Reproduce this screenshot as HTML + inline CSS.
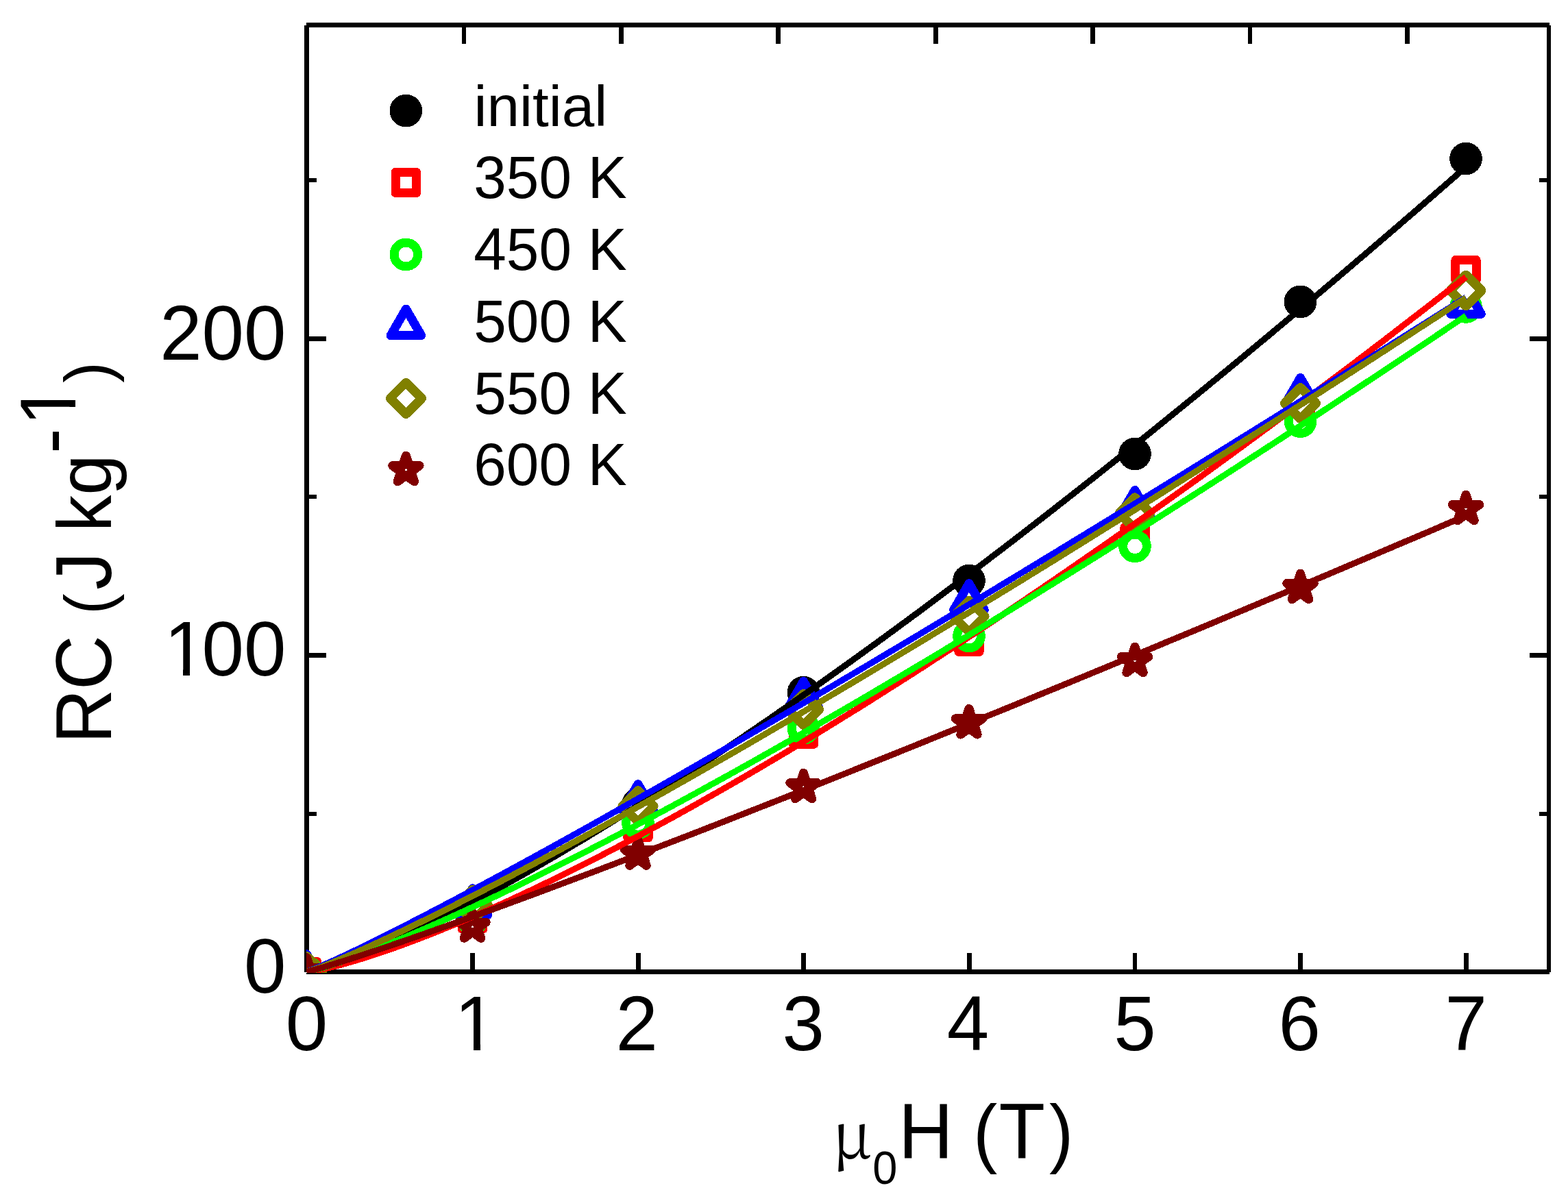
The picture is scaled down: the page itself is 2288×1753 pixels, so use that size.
<!DOCTYPE html>
<html lang="en"><head><meta charset="utf-8"><title>RC vs field</title>
<style>html,body{margin:0;padding:0;background:#fff}body{width:2288px;height:1753px;overflow:hidden}svg{display:block}text{font-family:"Liberation Sans",sans-serif;fill:#000}.sym{font-family:"Noto Serif CJK SC","Liberation Serif",serif}</style>
</head><body>
<svg width="2288" height="1753" viewBox="0 0 2288 1753" shape-rendering="crispEdges">
<rect width="2288" height="1753" fill="#fff"/>
<defs>
<clipPath id="k1"><path d="M-5 -100H70V-9.2H37.5V3H27.75V-9.2H-5Z"/></clipPath>
<clipPath id="cp"><rect x="447" y="0" width="1841.0" height="1420"/></clipPath>
<circle id="m0" r="17.3" fill="#000" stroke="#000" stroke-width="13"/>
<rect id="m1" x="-15.15" y="-15.15" width="30.3" height="30.3" fill="#fff" stroke="#f00" stroke-width="13" stroke-linejoin="round"/>
<circle id="m2" r="17.3" fill="#fff" stroke="#0f0" stroke-width="13"/>
<polygon id="m3" points="0,-25.7 22.35,12.85 -22.35,12.85" fill="#fff" stroke="#00f" stroke-width="13" stroke-linejoin="round"/>
<polygon id="m4" points="0,-23.05 23.05,0 0,23.05 -23.05,0" fill="#fff" stroke="#808000" stroke-width="13" stroke-linejoin="round"/>
<polygon id="m5" points="0.00,-20.80 4.67,-6.43 19.78,-6.43 7.56,2.46 12.23,16.83 0.00,7.95 -12.23,16.83 -7.56,2.46 -19.78,-6.43 -4.67,-6.43" fill="#fff" stroke="#800000" stroke-width="13" stroke-linejoin="round"/>
</defs>
<g stroke="#000" stroke-width="7" fill="none" stroke-linecap="butt">
<path d="M447.5 36.5V1418.75M447 1418.5H2261M447 36.5H2261"/>
<path d="M2260 36.5V1418.75" stroke-width="6"/>
</g>
<path d="M689.5 1391V1416M677.0 39V64M931.1 1391V1416M906.4 39V64M1172.7 1391V1416M1135.8 39V64M1414.3 1391V1416M1365.2 39V64M1655.9 1391V1416M1594.6 39V64M1897.5 1391V1416M1824.0 39V64M2139.1 1391V1416M2053.4 39V64" stroke="#000" stroke-width="6.8" fill="none"/>
<path d="M450 956.5H476.0M2258 956.5H2232.0M450 494.4H476.0M2258 494.4H2232.0" stroke="#000" stroke-width="7" fill="none"/>
<path d="M450 1187.5H462.0M2258 1187.5H2246.0M450 725.4H462.0M2258 725.4H2246.0M450 263.4H462.0M2258 263.4H2246.0" stroke="#000" stroke-width="6" fill="none"/>
<text transform="translate(447.50 1533.00) scale(1 1.025)" font-size="110.5" text-anchor="middle">0</text>
<text transform="translate(663.20 1533.00) scale(1 1.025)" font-size="110.5">1</text>
<path transform="translate(663.20 1533.00)" d="M6 -9.62H27.75V1.5H6ZM37.5 -9.62H58V1.5H37.5Z" fill="#fff"/>
<text transform="translate(929.20 1533.00) scale(1 1.025)" font-size="110.5" text-anchor="middle">2</text>
<text transform="translate(1172.30 1533.00) scale(1 1.025)" font-size="110.5" text-anchor="middle">3</text>
<text transform="translate(1412.40 1533.00) scale(1 1.025)" font-size="110.5" text-anchor="middle">4</text>
<text transform="translate(1656.00 1533.00) scale(1 1.025)" font-size="110.5" text-anchor="middle">5</text>
<text transform="translate(1896.10 1533.00) scale(1 1.025)" font-size="110.5" text-anchor="middle">6</text>
<text transform="translate(2139.20 1533.00) scale(1 1.025)" font-size="110.5" text-anchor="middle">7</text>
<text transform="translate(417.50 1448.90) scale(1 1.025)" font-size="110.5" text-anchor="end">0</text>
<text transform="translate(0 985.85) scale(1 1.025)" font-size="110.5" x="239.5 294.6 356.05">100</text>
<path transform="translate(239.50 985.85)" d="M6 -9.62H27.75V1.5H6ZM37.5 -9.62H58V1.5H37.5Z" fill="#fff"/>
<text transform="translate(417.50 524.80) scale(1 1.025)" font-size="110.5" text-anchor="end">200</text>
<text transform="translate(0 1691) scale(1 1.043)" font-size="110.5"><tspan class="sym" x="1214.3" font-size="92">μ</tspan><tspan x="1273.2" dy="35.95" font-size="65">0</tspan><tspan x="1311" dy="-35.95">H </tspan><tspan x="1420" font-size="106">(</tspan><tspan x="1457.5">T</tspan><tspan x="1531.1" font-size="106">)</tspan></text>
<text transform="translate(162 1085.5) rotate(-90) scale(1 1.045)" font-size="110.5"><tspan x="0">R</tspan><tspan x="78.4">C </tspan><tspan x="188.8" dy="-0.96" font-size="91">(</tspan><tspan x="224.5" dy="0.96">J </tspan><tspan x="309.2" font-size="107">kg</tspan><tspan x="423.5" dy="-48.33">-</tspan><tspan x="464" dy="-1.44">1</tspan><tspan x="526.7" dy="48.80" font-size="91">)</tspan></text>
<path transform="translate(110.00 621.50) rotate(-90)" d="M6 -9.79H27.75V1.5H6ZM37.5 -9.79H58V1.5H37.5Z" fill="#fff"/>
<use href="#m0" x="592.4" y="161.6"/>
<use href="#m1" x="592.4" y="266.5"/>
<use href="#m2" x="592.4" y="371.5"/>
<use href="#m3" x="592.4" y="476.8"/>
<use href="#m4" x="592.4" y="581.4"/>
<use href="#m5" x="592.4" y="686.0"/>
<text transform="translate(691.50 184.20) scale(1 0.98)" font-size="85.5">initial</text>
<text transform="translate(691.30 288.60) scale(1 1.025)" font-size="85.5">350 K</text>
<text transform="translate(691.30 393.60) scale(1 1.025)" font-size="85.5">450 K</text>
<text transform="translate(691.30 498.90) scale(1 1.025)" font-size="85.5">500 K</text>
<text transform="translate(691.30 603.50) scale(1 1.025)" font-size="85.5">550 K</text>
<text transform="translate(691.30 708.10) scale(1 1.025)" font-size="85.5">600 K</text>
<g clip-path="url(#cp)">
<g><use href="#m0" x="447.5" y="1418.5"/><use href="#m0" x="689.5" y="1335.0"/><use href="#m0" x="931.0" y="1174.0"/><use href="#m0" x="1172.5" y="1010.7"/><use href="#m0" x="1414.0" y="847.5"/><use href="#m0" x="1656.0" y="662.5"/><use href="#m0" x="1897.5" y="440.5"/><use href="#m0" x="2139.0" y="231.5"/></g>
<g><use href="#m1" x="447.5" y="1418.5"/><use href="#m1" x="689.5" y="1341.2"/><use href="#m1" x="931.0" y="1207.8"/><use href="#m1" x="1172.5" y="1071.2"/><use href="#m1" x="1414.0" y="936.3"/><use href="#m1" x="1656.0" y="784.6"/><use href="#m1" x="1897.5" y="597.0"/><use href="#m1" x="2139.0" y="394.5"/></g>
<g><use href="#m2" x="447.5" y="1418.5"/><use href="#m2" x="689.5" y="1341.0"/><use href="#m2" x="931.0" y="1201.0"/><use href="#m2" x="1172.5" y="1062.9"/><use href="#m2" x="1414.0" y="928.4"/><use href="#m2" x="1656.0" y="797.3"/><use href="#m2" x="1897.5" y="615.2"/><use href="#m2" x="2139.0" y="448.0"/></g>
<g><use href="#m3" x="447.5" y="1418.5"/><use href="#m3" x="689.5" y="1322.4"/><use href="#m3" x="931.0" y="1170.2"/><use href="#m3" x="1172.5" y="1020.1"/><use href="#m3" x="1414.0" y="877.4"/><use href="#m3" x="1656.0" y="741.1"/><use href="#m3" x="1897.5" y="577.1"/><use href="#m3" x="2139.0" y="445.5"/></g>
<g><use href="#m4" x="447.5" y="1418.5"/><use href="#m4" x="689.5" y="1321.2"/><use href="#m4" x="931.0" y="1176.6"/><use href="#m4" x="1172.5" y="1035.5"/><use href="#m4" x="1414.0" y="899.4"/><use href="#m4" x="1656.0" y="748.9"/><use href="#m4" x="1897.5" y="588.6"/><use href="#m4" x="2139.0" y="424.0"/></g>
<g><use href="#m5" x="447.5" y="1418.5"/><use href="#m5" x="689.5" y="1352.5"/><use href="#m5" x="931.0" y="1246.5"/><use href="#m5" x="1172.5" y="1149.0"/><use href="#m5" x="1414.0" y="1055.2"/><use href="#m5" x="1656.0" y="964.9"/><use href="#m5" x="1897.5" y="857.9"/><use href="#m5" x="2139.0" y="742.9"/></g>
<g fill="none" stroke-width="9" stroke-linejoin="round">
<polyline stroke="#000" points="447.5,1418.5 471.7,1412.9 495.8,1405.2 520.0,1396.3 544.2,1386.6 568.3,1376.2 592.5,1365.3 616.6,1353.9 640.8,1342.1 665.0,1329.9 689.1,1317.3 713.3,1304.4 737.5,1291.1 761.6,1277.6 785.8,1263.8 810.0,1249.8 834.1,1235.5 858.3,1221.0 882.5,1206.2 906.6,1191.3 930.8,1176.1 954.9,1160.8 979.1,1145.2 1003.3,1129.5 1027.4,1113.5 1051.6,1097.4 1075.8,1081.2 1099.9,1064.8 1124.1,1048.2 1148.3,1031.4 1172.4,1014.5 1196.6,997.5 1220.7,980.3 1244.9,963.0 1269.1,945.5 1293.2,928.0 1317.4,910.2 1341.6,892.4 1365.7,874.4 1389.9,856.3 1414.1,838.1 1438.2,819.7 1462.4,801.3 1486.6,782.7 1510.7,764.0 1534.9,745.2 1559.0,726.3 1583.2,707.3 1607.4,688.2 1631.5,669.0 1655.7,649.7 1679.9,630.3 1704.0,610.7 1728.2,591.1 1752.4,571.4 1776.5,551.6 1800.7,531.7 1824.8,511.7 1849.0,491.6 1873.2,471.4 1897.3,451.2 1921.5,430.8 1945.7,410.4 1969.8,389.8 1994.0,369.2 2018.2,348.5 2042.3,327.8 2066.5,306.9 2090.7,285.9 2114.8,264.9 2139.0,243.8"/>
<polyline stroke="#f00" points="447.5,1418.5 471.7,1414.5 495.8,1408.7 520.0,1401.8 544.2,1394.2 568.3,1386.1 592.5,1377.3 616.6,1368.2 640.8,1358.6 665.0,1348.7 689.1,1338.4 713.3,1327.8 737.5,1316.9 761.6,1305.7 785.8,1294.2 810.0,1282.5 834.1,1270.6 858.3,1258.4 882.5,1246.0 906.6,1233.4 930.8,1220.6 954.9,1207.6 979.1,1194.4 1003.3,1181.0 1027.4,1167.4 1051.6,1153.7 1075.8,1139.8 1099.9,1125.8 1124.1,1111.5 1148.3,1097.2 1172.4,1082.6 1196.6,1068.0 1220.7,1053.1 1244.9,1038.2 1269.1,1023.1 1293.2,1007.8 1317.4,992.5 1341.6,977.0 1365.7,961.3 1389.9,945.6 1414.1,929.7 1438.2,913.7 1462.4,897.6 1486.6,881.3 1510.7,865.0 1534.9,848.5 1559.0,831.9 1583.2,815.2 1607.4,798.4 1631.5,781.5 1655.7,764.5 1679.9,747.4 1704.0,730.2 1728.2,712.9 1752.4,695.5 1776.5,678.0 1800.7,660.4 1824.8,642.6 1849.0,624.8 1873.2,606.9 1897.3,589.0 1921.5,570.9 1945.7,552.7 1969.8,534.5 1994.0,516.1 2018.2,497.7 2042.3,479.1 2066.5,460.5 2090.7,441.8 2114.8,423.1 2139.0,404.2"/>
<polyline stroke="#0f0" points="447.5,1418.5 471.7,1412.4 495.8,1404.7 520.0,1396.1 544.2,1386.9 568.3,1377.2 592.5,1367.2 616.6,1356.9 640.8,1346.3 665.0,1335.4 689.1,1324.3 713.3,1312.9 737.5,1301.4 761.6,1289.7 785.8,1277.8 810.0,1265.7 834.1,1253.5 858.3,1241.2 882.5,1228.7 906.6,1216.0 930.8,1203.3 954.9,1190.4 979.1,1177.4 1003.3,1164.3 1027.4,1151.0 1051.6,1137.7 1075.8,1124.3 1099.9,1110.8 1124.1,1097.1 1148.3,1083.4 1172.4,1069.6 1196.6,1055.7 1220.7,1041.7 1244.9,1027.6 1269.1,1013.5 1293.2,999.2 1317.4,984.9 1341.6,970.5 1365.7,956.1 1389.9,941.5 1414.1,926.9 1438.2,912.3 1462.4,897.5 1486.6,882.7 1510.7,867.8 1534.9,852.9 1559.0,837.9 1583.2,822.8 1607.4,807.7 1631.5,792.5 1655.7,777.2 1679.9,761.9 1704.0,746.5 1728.2,731.1 1752.4,715.6 1776.5,700.1 1800.7,684.5 1824.8,668.9 1849.0,653.2 1873.2,637.4 1897.3,621.6 1921.5,605.8 1945.7,589.9 1969.8,573.9 1994.0,557.9 2018.2,541.9 2042.3,525.8 2066.5,509.7 2090.7,493.5 2114.8,477.2 2139.0,461.0"/>
<polyline stroke="#00f" points="447.5,1418.5 471.7,1408.7 495.8,1397.8 520.0,1386.3 544.2,1374.5 568.3,1362.4 592.5,1350.2 616.6,1337.7 640.8,1325.1 665.0,1312.4 689.1,1299.5 713.3,1286.5 737.5,1273.4 761.6,1260.3 785.8,1247.0 810.0,1233.7 834.1,1220.3 858.3,1206.8 882.5,1193.2 906.6,1179.6 930.8,1165.9 954.9,1152.2 979.1,1138.4 1003.3,1124.5 1027.4,1110.6 1051.6,1096.7 1075.8,1082.7 1099.9,1068.6 1124.1,1054.5 1148.3,1040.4 1172.4,1026.2 1196.6,1012.0 1220.7,997.7 1244.9,983.4 1269.1,969.1 1293.2,954.7 1317.4,940.3 1341.6,925.9 1365.7,911.4 1389.9,896.9 1414.1,882.4 1438.2,867.8 1462.4,853.2 1486.6,838.6 1510.7,823.9 1534.9,809.2 1559.0,794.5 1583.2,779.8 1607.4,765.0 1631.5,750.2 1655.7,735.4 1679.9,720.5 1704.0,705.7 1728.2,690.8 1752.4,675.8 1776.5,660.9 1800.7,645.9 1824.8,630.9 1849.0,615.9 1873.2,600.9 1897.3,585.8 1921.5,570.7 1945.7,555.6 1969.8,540.5 1994.0,525.4 2018.2,510.2 2042.3,495.0 2066.5,479.8 2090.7,464.6 2114.8,449.4 2139.0,434.1"/>
<polyline stroke="#808000" points="447.5,1418.5 471.7,1410.2 495.8,1400.4 520.0,1389.9 544.2,1379.0 568.3,1367.8 592.5,1356.2 616.6,1344.5 640.8,1332.5 665.0,1320.3 689.1,1308.0 713.3,1295.5 737.5,1282.9 761.6,1270.1 785.8,1257.2 810.0,1244.2 834.1,1231.1 858.3,1217.9 882.5,1204.6 906.6,1191.2 930.8,1177.7 954.9,1164.2 979.1,1150.5 1003.3,1136.8 1027.4,1123.0 1051.6,1109.1 1075.8,1095.2 1099.9,1081.2 1124.1,1067.1 1148.3,1053.0 1172.4,1038.8 1196.6,1024.5 1220.7,1010.2 1244.9,995.9 1269.1,981.4 1293.2,967.0 1317.4,952.5 1341.6,937.9 1365.7,923.3 1389.9,908.6 1414.1,893.9 1438.2,879.1 1462.4,864.3 1486.6,849.5 1510.7,834.6 1534.9,819.7 1559.0,804.7 1583.2,789.7 1607.4,774.6 1631.5,759.6 1655.7,744.4 1679.9,729.3 1704.0,714.1 1728.2,698.8 1752.4,683.5 1776.5,668.2 1800.7,652.9 1824.8,637.5 1849.0,622.1 1873.2,606.7 1897.3,591.2 1921.5,575.7 1945.7,560.1 1969.8,544.6 1994.0,529.0 2018.2,513.3 2042.3,497.7 2066.5,482.0 2090.7,466.3 2114.8,450.5 2139.0,434.8"/>
<polyline stroke="#800000" points="447.5,1418.5 471.7,1411.9 495.8,1404.5 520.0,1396.8 544.2,1388.8 568.3,1380.7 592.5,1372.4 616.6,1364.0 640.8,1355.4 665.0,1346.8 689.1,1338.1 713.3,1329.4 737.5,1320.5 761.6,1311.6 785.8,1302.7 810.0,1293.6 834.1,1284.6 858.3,1275.5 882.5,1266.3 906.6,1257.1 930.8,1247.8 954.9,1238.5 979.1,1229.2 1003.3,1219.9 1027.4,1210.5 1051.6,1201.0 1075.8,1191.5 1099.9,1182.0 1124.1,1172.5 1148.3,1163.0 1172.4,1153.4 1196.6,1143.8 1220.7,1134.1 1244.9,1124.4 1269.1,1114.7 1293.2,1105.0 1317.4,1095.3 1341.6,1085.5 1365.7,1075.7 1389.9,1065.9 1414.1,1056.1 1438.2,1046.2 1462.4,1036.4 1486.6,1026.5 1510.7,1016.5 1534.9,1006.6 1559.0,996.7 1583.2,986.7 1607.4,976.7 1631.5,966.7 1655.7,956.7 1679.9,946.6 1704.0,936.5 1728.2,926.5 1752.4,916.4 1776.5,906.3 1800.7,896.1 1824.8,886.0 1849.0,875.8 1873.2,865.7 1897.3,855.5 1921.5,845.3 1945.7,835.1 1969.8,824.8 1994.0,814.6 2018.2,804.3 2042.3,794.0 2066.5,783.8 2090.7,773.5 2114.8,763.1 2139.0,752.8"/>
</g>
</g>
</svg></body></html>
